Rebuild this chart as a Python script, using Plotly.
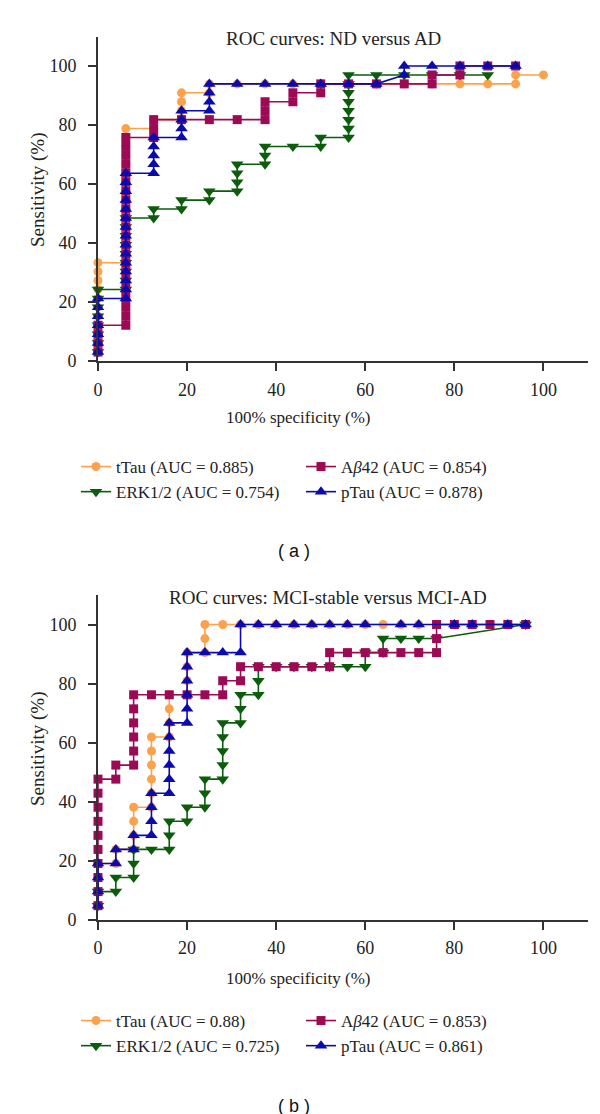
import plotly.graph_objects as go

# ---------------- DATA: (a) ND versus AD ----------------
a_ttau_x = [0,0,0,0,0,0,0,0,0,0,0,
            6.25,6.25,6.25,6.25,6.25,6.25,6.25,6.25,6.25,6.25,6.25,6.25,6.25,6.25,6.25,6.25,
            12.5,12.5,18.75,18.75,18.75,18.75,25,25,31.25,37.5,43.75,50,56.25,62.5,68.75,75,
            81.25,87.5,93.75,93.75,100]
a_ttau_y = [3.03,6.06,9.09,12.12,15.15,18.18,21.21,24.24,27.27,30.30,33.33,
            33.33,36.36,39.39,42.42,45.45,48.48,51.52,54.55,57.58,60.61,63.64,66.67,69.70,72.73,75.76,78.79,
            78.79,81.82,81.82,84.85,87.88,90.91,90.91,93.94,93.94,93.94,93.94,93.94,93.94,93.94,93.94,93.94,
            93.94,93.94,93.94,96.97,96.97]

a_erk_x = [0,0,0,0,0,0,0,0,
           6.25,6.25,6.25,6.25,6.25,6.25,6.25,6.25,6.25,
           12.5,12.5,18.75,18.75,25,25,31.25,31.25,31.25,31.25,37.5,37.5,37.5,43.75,50,50,
           56.25,56.25,56.25,56.25,56.25,56.25,56.25,56.25,62.5,68.75,75,81.25,87.5]
a_erk_y = [3.03,6.06,9.09,12.12,15.15,18.18,21.21,24.24,
           24.24,27.27,30.30,33.33,36.36,39.39,42.42,45.45,48.48,
           48.48,51.52,51.52,54.55,54.55,57.58,57.58,60.61,63.64,66.67,66.67,69.70,72.73,72.73,72.73,75.76,
           75.76,78.79,81.82,84.85,87.88,90.91,93.94,96.97,96.97,96.97,96.97,96.97,96.97]

a_abeta_x = [0,0,0,0,
             6.25,6.25,6.25,6.25,6.25,6.25,6.25,6.25,6.25,6.25,6.25,6.25,6.25,6.25,6.25,6.25,6.25,6.25,6.25,6.25,6.25,6.25,
             12.5,12.5,12.5,18.75,25,31.25,37.5,37.5,37.5,43.75,43.75,50,50,56.25,62.5,68.75,75,75,
             81.25,81.25,87.5,93.75]
a_abeta_y = [3.03,6.06,9.09,12.12,
             12.12,15.15,18.18,21.21,24.24,27.27,30.30,33.33,36.36,39.39,42.42,45.45,48.48,51.52,54.55,57.58,60.61,63.64,66.67,69.70,72.73,75.76,
             75.76,78.79,81.82,81.82,81.82,81.82,81.82,84.85,87.88,87.88,90.91,90.91,93.94,93.94,93.94,93.94,93.94,96.97,
             96.97,100,100,100]

a_ptau_x = [0,0,0,0,0,0,0,
            6.25,6.25,6.25,6.25,6.25,6.25,6.25,6.25,6.25,6.25,6.25,6.25,6.25,6.25,6.25,
            12.5,12.5,12.5,12.5,12.5,18.75,18.75,18.75,18.75,25,25,25,25,
            31.25,37.5,43.75,50,56.25,62.5,68.75,68.75,75,81.25,87.5,93.75]
a_ptau_y = [3.03,6.06,9.09,12.12,15.15,18.18,21.21,
            21.21,24.24,27.27,30.30,33.33,36.36,39.39,42.42,45.45,48.48,51.52,54.55,57.58,60.61,63.64,
            63.64,66.67,69.70,72.73,75.76,75.76,78.79,81.82,84.85,84.85,87.88,90.91,93.94,
            93.94,93.94,93.94,93.94,93.94,93.94,96.97,100,100,100,100,100]

# ---------------- DATA: (b) MCI-stable versus MCI-AD ----------------
b_ttau_x = [0,0,0,0,4,4,8,8,8,8,12,12,12,12,12,12,16,16,16,16,20,20,20,20,24,24,24,
            28,32,36,40,44,48,52,56,60,64,68,72]
b_ttau_y = [4.76,9.52,14.29,19.05,19.05,23.81,23.81,28.57,33.33,38.10,38.10,42.86,47.62,52.38,57.14,61.90,
            61.90,66.67,71.43,76.19,76.19,80.95,85.71,90.48,90.48,95.24,100,
            100,100,100,100,100,100,100,100,100,100,100,100]

b_erk_x = [0,0,4,4,8,8,8,12,16,16,16,20,20,24,24,24,28,28,28,28,28,32,32,32,36,36,36,
           40,44,48,52,56,60,60,64,64,68,72,76,96]
b_erk_y = [4.76,9.52,9.52,14.29,14.29,19.05,23.81,23.81,23.81,28.57,33.33,33.33,38.10,38.10,42.86,47.62,
           47.62,52.38,57.14,61.90,66.67,66.67,71.43,76.19,76.19,80.95,85.71,
           85.71,85.71,85.71,85.71,85.71,85.71,90.48,90.48,95.24,95.24,95.24,95.24,100]

b_abeta_x = [0,0,0,0,0,0,0,0,0,0,4,4,8,8,8,8,8,8,12,16,20,24,28,28,32,32,
             36,40,44,48,52,52,56,60,64,68,72,76,76,76,80,84,88,92,96]
b_abeta_y = [4.76,9.52,14.29,19.05,23.81,28.57,33.33,38.10,42.86,47.62,47.62,52.38,52.38,57.14,61.90,66.67,71.43,76.19,
             76.19,76.19,76.19,76.19,76.19,80.95,80.95,85.71,
             85.71,85.71,85.71,85.71,85.71,90.48,90.48,90.48,90.48,90.48,90.48,90.48,95.24,100,100,100,100,100,100]

b_ptau_x = [0,0,0,0,4,4,8,8,12,12,12,12,16,16,16,16,16,16,20,20,20,20,20,20,24,28,32,32,
            36,40,44,48,52,56,60,68,72,80,84,92,96]
b_ptau_y = [4.76,9.52,14.29,19.05,19.05,23.81,23.81,28.57,28.57,33.33,38.10,42.86,
            42.86,47.62,52.38,57.14,61.90,66.67,66.67,71.43,76.19,80.95,85.71,90.48,90.48,90.48,90.48,100,
            100,100,100,100,100,100,100,100,100,100,100,100,100]

titles = ["ROC curves: ND versus AD", "ROC curves: MCI-stable versus MCI-AD"]
names_a = ["tTau (AUC = 0.885)", "ERK1/2 (AUC = 0.754)", "A<i>β</i>42 (AUC = 0.854)", "pTau (AUC = 0.878)"]
names_b = ["tTau (AUC = 0.88)", "ERK1/2 (AUC = 0.725)", "A<i>β</i>42 (AUC = 0.853)", "pTau (AUC = 0.861)"]
x_ticks = [0, 20, 40, 60, 80, 100]
y_ticks = [0, 20, 40, 60, 80, 100]
panel_labels = ["( a )", "( b )"]

# ---------------- STYLE ----------------
W, H = 600, 1114
SERIF = "Liberation Serif, Times New Roman, serif"
colors = ["#FCA24C", "#0B5C0B", "#9C0A55", "#0A0AAE"]
symbols = ["circle", "triangle-down", "square", "triangle-up"]
msizes = [9, 11, 9, 11]
ranks = [1, 3, 2, 4]


def px_x(p):
    return p / W


def px_y(p):
    return 1 - p / H


fig = go.Figure()

panels = [
    dict(data=[(a_ttau_x, a_ttau_y), (a_erk_x, a_erk_y), (a_abeta_x, a_abeta_y), (a_ptau_x, a_ptau_y)],
         names=names_a, xa="x", ya="y", legend="legend"),
    dict(data=[(b_ttau_x, b_ttau_y), (b_erk_x, b_erk_y), (b_abeta_x, b_abeta_y), (b_ptau_x, b_ptau_y)],
         names=names_b, xa="x2", ya="y2", legend="legend2"),
]

for p in panels:
    for i, (xs, ys) in enumerate(p["data"]):
        fig.add_trace(go.Scatter(
            x=xs, y=ys, mode="lines+markers", name=p["names"][i],
            xaxis=p["xa"], yaxis=p["ya"], legend=p["legend"], legendrank=ranks[i],
            line=dict(color=colors[i], width=1.6),
            marker=dict(symbol=symbols[i], size=msizes[i], color=colors[i], line=dict(width=0)),
            cliponaxis=False, showlegend=True,
        ))

axis_common = dict(
    range=[0, 110], showgrid=False, zeroline=False, showline=True, automargin=False,
    linecolor="#333333", linewidth=2, ticks="outside", ticklen=8, tickwidth=1.5,
    tickcolor="#333333", tickfont=dict(family=SERIF, size=18, color="#222222"),
    tickmode="array", tickvals=x_ticks,
)

legend_common = dict(orientation="h", xanchor="left", yanchor="top",
                     entrywidth=180, entrywidthmode="pixels",
                     font=dict(family=SERIF, size=17, color="#222222"), bgcolor="rgba(0,0,0,0)",
                     itemwidth=30, traceorder="normal", tracegroupgap=0)

fig.update_layout(
    width=W, height=H, margin=dict(l=0, r=0, t=0, b=0, autoexpand=False),
    paper_bgcolor="white", plot_bgcolor="white",
    xaxis=dict(axis_common, domain=[px_x(90), px_x(580)], anchor="y", ticklabelstandoff=3),
    yaxis=dict(axis_common, domain=[px_y(353.0), px_y(28.5)], anchor="x", tickvals=y_ticks,
               ticklabelstandoff=8),
    xaxis2=dict(axis_common, domain=[px_x(90), px_x(580)], anchor="y2", ticklabelstandoff=3),
    yaxis2=dict(axis_common, domain=[px_y(911.7), px_y(587.0)], anchor="x2", tickvals=y_ticks,
                ticklabelstandoff=8),
    legend=dict(legend_common, x=px_x(68), y=px_y(441)),
    legend2=dict(legend_common, x=px_x(68), y=px_y(995)),
)

ann = []
# titles
ann.append(dict(text=titles[0], x=px_x(325), y=px_y(31), xref="paper", yref="paper",
                showarrow=False, xanchor="center", yanchor="middle",
                font=dict(family=SERIF, size=19, color="#222222")))
ann.append(dict(text=titles[1], x=px_x(320), y=px_y(589), xref="paper", yref="paper",
                showarrow=False, xanchor="center", yanchor="middle",
                font=dict(family=SERIF, size=19, color="#222222")))
# axis titles
for yc, xc in [(409, 182), (970, 741)]:
    ann.append(dict(text="100% specificity (%)", x=px_x(290), y=px_y(yc), xref="paper", yref="paper",
                    showarrow=False, xanchor="center", yanchor="middle",
                    font=dict(family=SERIF, size=17, color="#222222")))
    ann.append(dict(text="Sensitivity (%)", x=px_x(30), y=px_y(xc), xref="paper", yref="paper",
                    showarrow=False, xanchor="center", yanchor="middle", textangle=-90,
                    font=dict(family=SERIF, size=19, color="#222222")))
# panel labels
for lab, yc in zip(panel_labels, [543, 1098]):
    ann.append(dict(text=lab, x=px_x(286), y=px_y(yc), xref="paper", yref="paper",
                    showarrow=False, xanchor="center", yanchor="middle",
                    font=dict(family="Liberation Sans, Arial, sans-serif", size=18, color="#111111")))
fig.update_layout(annotations=ann)

fig.write_html("out.html")
